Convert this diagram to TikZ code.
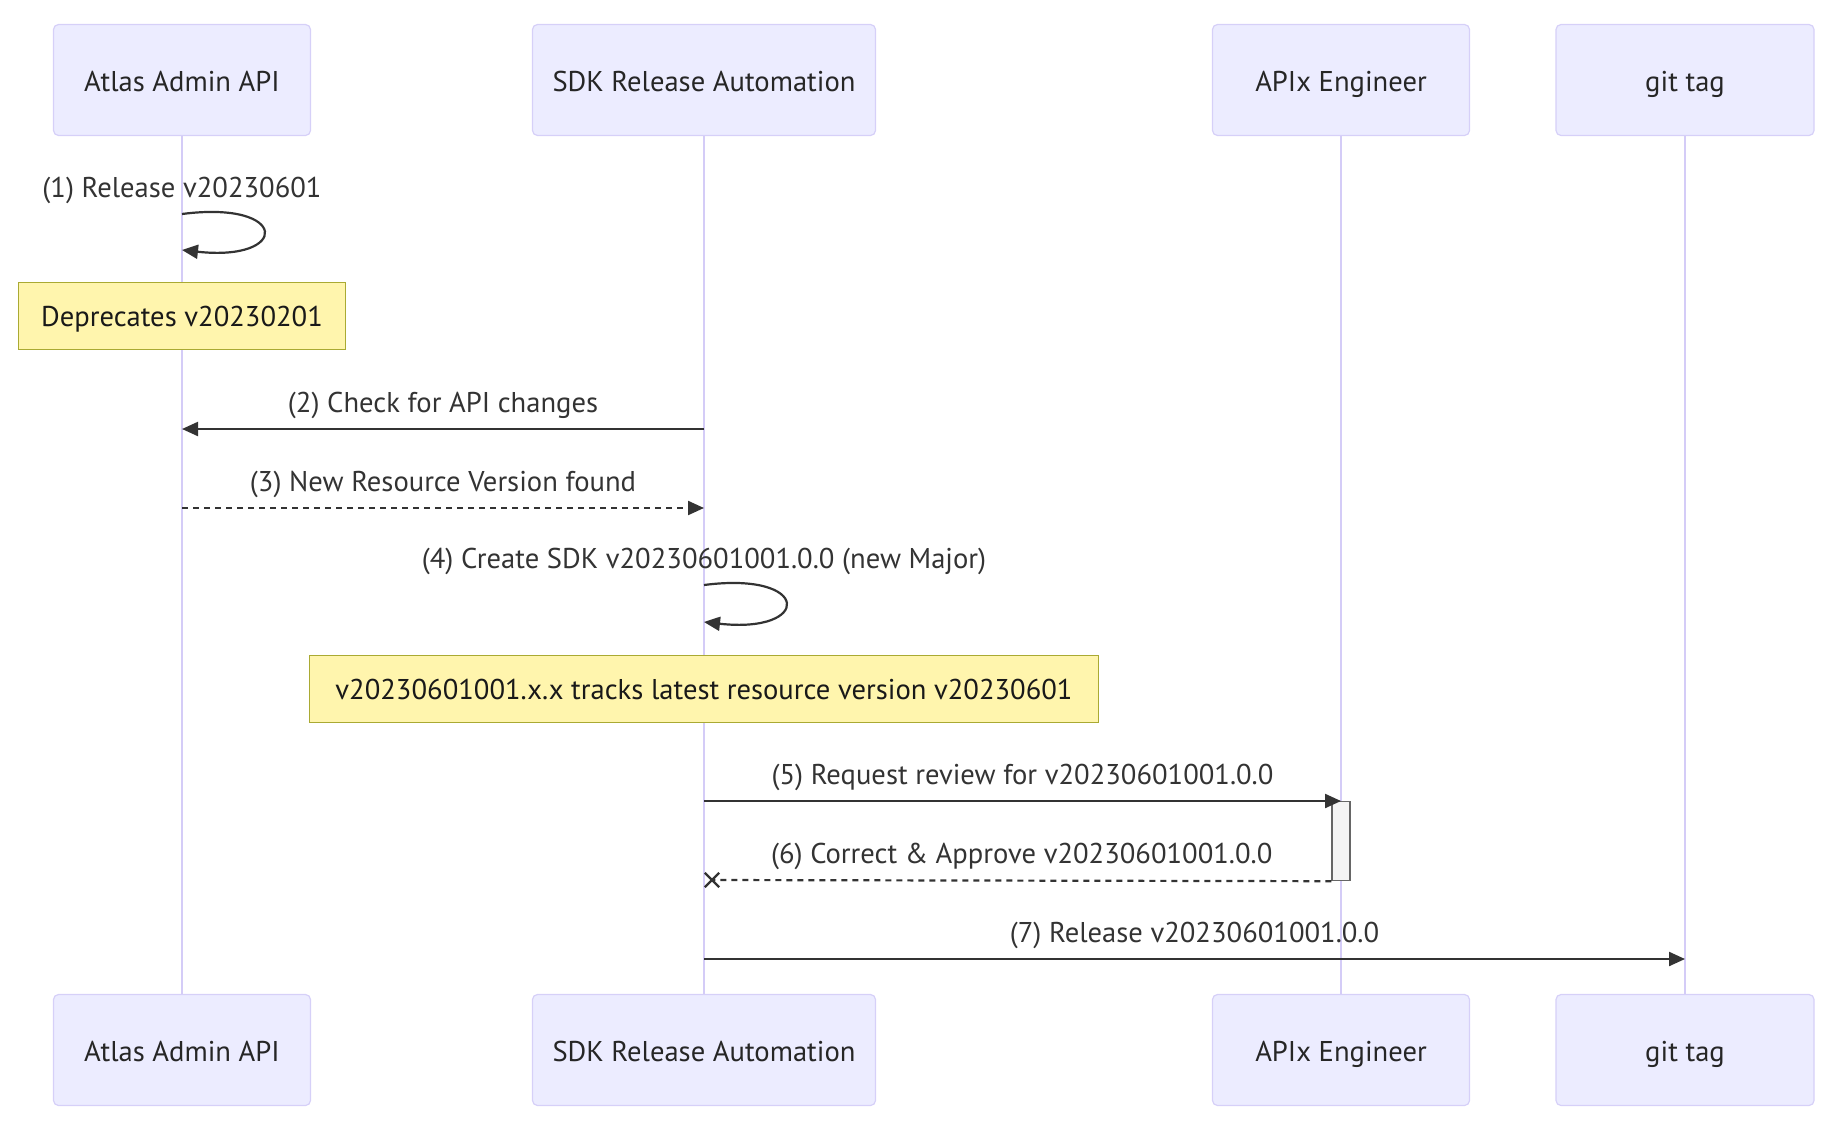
\documentclass[tikz,border=0pt]{standalone}
\usepackage{fontspec}
\setmainfont{PT Sans}
\usetikzlibrary{arrows.meta, positioning, shapes.misc, backgrounds}

\definecolor{actorfill}{HTML}{ECECFF}
\definecolor{actorline}{HTML}{D6D0F8}
\definecolor{lifecol}{HTML}{D4CCF7}
\definecolor{notefill}{HTML}{FFF5AD}
\definecolor{noteline}{HTML}{AAAA33}
\definecolor{msgcol}{HTML}{333333}
\definecolor{actfill}{HTML}{F4F4F4}
\definecolor{actline}{HTML}{666666}
\newcommand{\seqfont}{\fontsize{14.3pt}{17pt}\selectfont}

\begin{document}
\begin{tikzpicture}[x=0.5pt, y=-0.5pt,
        actor/.style={draw=actorline, fill=actorfill, rounded corners=2.5pt, line width=0.6pt, minimum height=55.5pt, text height=13pt, text depth=2pt, font=\seqfont, text=black!85},
        note/.style={draw=noteline, fill=notefill, line width=0.6pt, minimum height=33.5pt, text height=12pt, text depth=2pt, font=\seqfont, text=black!90},
        lifeline/.style={draw=lifecol, line width=1pt},
        msg/.style={draw=msgcol, line width=1.1pt, -{Triangle[length=8pt, width=7pt]}},
        reply/.style={msg, dash pattern=on 3pt off 2.5pt},
        msglabel/.style={font=\seqfont, text=msgcol, anchor=base, inner sep=0pt, yshift=8.5pt}
    ]
        \useasboundingbox (0,0) rectangle (1834,1124);

        % Participants (top and bottom)
        \foreach \nm/\x/\w/\txt in {atlas/182/128.5/Atlas Admin API, sdk/704/171.5/SDK Release Automation,
                apix/1341/128.5/APIx Engineer, git/1685/129/git tag} {
            \node[actor, minimum width=\w pt] (\nm T) at (\x, 80) {\txt};
            \node[actor, minimum width=\w pt] (\nm B) at (\x, 1050) {\txt};
        }

        % Lifelines
        \begin{scope}[on background layer]
            \foreach \nm in {atlas, sdk, apix, git}
                \draw[lifeline] (\nm T.south) -- (\nm B.north);
        \end{scope}

        % Message rows
        \coordinate (r1) at (0, 214);  \coordinate (r1e) at (0, 250);
        \coordinate (r2) at (0, 429);
        \coordinate (r3) at (0, 508);
        \coordinate (r4) at (0, 585);  \coordinate (r4e) at (0, 622);
        \coordinate (r5) at (0, 801);
        \coordinate (r6) at (0, 880);
        \coordinate (r7) at (0, 959);

        % (1) self call + note
        \draw[msg] (atlasT |- r1) node[msglabel] {(1) Release v20230601}
            .. controls +(108,-14) and +(108,12) .. (atlasT |- r1e);
        \node[note, minimum width=163.5pt] (dep) at (182, 316) {Deprecates v20230201};

        % (2) and (3)
        \draw[msg] (sdkT |- r2) -- node[msglabel] {(2) Check for API changes} (atlasT |- r2);
        \draw[reply] (atlasT |- r3) -- node[msglabel] {(3) New Resource Version found} (sdkT |- r3);

        % (4) self call + note
        \draw[msg] (sdkT |- r4) node[msglabel] {(4) Create SDK v20230601001.0.0 (new Major)}
            .. controls +(108,-14) and +(108,12) .. (sdkT |- r4e);
        \node[note, minimum width=394.5pt] (track) at (704, 689) {v20230601001.x.x tracks latest resource version v20230601};

        % (5) and (6) review with activation
        \node[draw=actline, fill=actfill, line width=0.6pt, minimum width=9pt, minimum height=39.5pt, inner sep=0pt, anchor=north] (act) at (apixT |- r5) {};
        \draw[msg] (sdkT |- r5) -- node[msglabel] {(5) Request review for v20230601001.0.0} (apixT |- r5);
        \node[cross out, draw=msgcol, line width=1.2pt, minimum size=6pt, inner sep=0pt, xshift=4pt] (x6) at (sdkT |- r6) {};
        \draw[reply, -] (act.south west) -- node[msglabel] {(6) Correct \& Approve v20230601001.0.0} (x6.center);

        % (7) release tag
        \draw[msg] (sdkT |- r7) -- node[msglabel] {(7) Release v20230601001.0.0} (gitT |- r7);

    \end{tikzpicture}
\end{document}
